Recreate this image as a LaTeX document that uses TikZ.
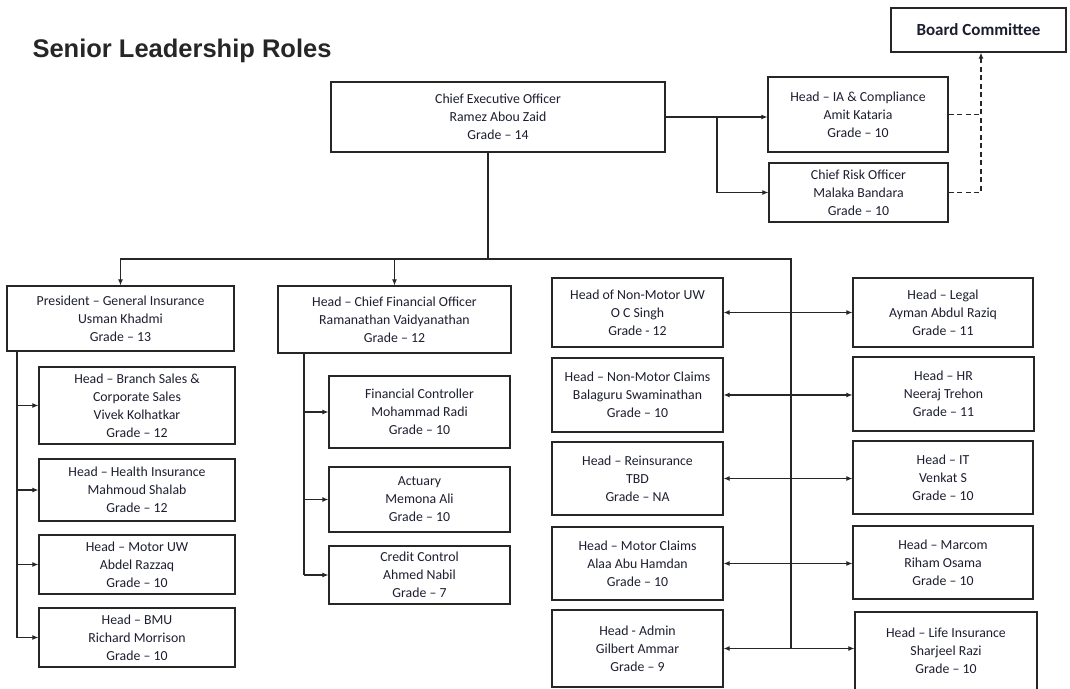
\documentclass[tikz,border=0pt]{standalone}
\usepackage{fontspec}
\setmainfont{Carlito}
\newfontfamily\titlefont{Liberation Sans}
\usetikzlibrary{arrows.meta}
\definecolor{ink}{RGB}{28,30,48}

\begin{document}
\begin{tikzpicture}[x=1pt, y=-1pt, >={Latex[length=6pt,width=5pt]},
    role/.style={rectangle, draw=black!85, line width=1.2pt, align=center, inner sep=0pt,
      text=ink, font=\fontsize{13.8}{18}\selectfont},
    link/.style={line width=1.1pt, draw=black!85}]

    \useasboundingbox (0,0) rectangle (1070,688);

    \node(title)[anchor=west, font=\titlefont\bfseries\fontsize{25.5}{28}\selectfont, text=black!85] at (29,51) {Senior Leadership Roles};
    \node(board)[role, minimum width=175pt, minimum height=44pt, font=\bfseries\fontsize{17}{20}\selectfont] at (978.5,30) {Board Committee};

    \node(ceo)[role, minimum width=334pt, minimum height=70pt] at (498,117) {Chief Executive Officer\\Ramez Abou Zaid\\Grade -- 14};
    \node(ia)[role, minimum width=180pt, minimum height=75pt] at (858,114.5) {Head -- IA \& Compliance\\Amit Kataria\\Grade -- 10};
    \node(cro)[role, minimum width=179pt, minimum height=59pt] at (858.5,192.5) {Chief Risk Officer\\Malaka Bandara\\Grade -- 10};

    % general insurance
    \node(pres)[role, minimum width=227pt, minimum height=65pt] at (120.5,318.5) {President -- General Insurance\\Usman Khadmi\\Grade -- 13};
    \node(branch)[role, minimum width=196pt, minimum height=77pt] at (137,405.5) {Head -- Branch Sales \&\\Corporate Sales\\Vivek Kolhatkar\\Grade -- 12};
    \node(health)[role, minimum width=196pt, minimum height=62pt] at (137,490) {Head -- Health Insurance\\Mahmoud Shalab\\Grade -- 12};
    \node(motoruw)[role, minimum width=196pt, minimum height=59pt] at (137,564.5) {Head -- Motor UW\\Abdel Razzaq\\Grade -- 10};
    \node(bmu)[role, minimum width=196pt, minimum height=59pt] at (137,637.5) {Head -- BMU\\Richard Morrison\\Grade -- 10};

    % finance
    \node(cfo)[role, minimum width=233pt, minimum height=67pt] at (394.5,319.5) {Head -- Chief Financial Officer\\Ramanathan Vaidyanathan\\Grade -- 12};
    \node(finctrl)[role, minimum width=181pt, minimum height=72pt] at (419.5,412) {Financial Controller\\Mohammad Radi\\Grade -- 10};
    \node(actuary)[role, minimum width=181pt, minimum height=65pt] at (419.5,499.5) {Actuary\\Memona Ali\\Grade -- 10};
    \node(credit)[role, minimum width=181pt, minimum height=58pt] at (419.5,575) {Credit Control\\Ahmed Nabil\\Grade -- 7};

    % direct reports, left side
    \node(nmuw)[role, minimum width=171pt, minimum height=69pt] at (637.5,312.5) {Head of Non-Motor UW\\O C Singh\\Grade - 12};
    \node(nmclaims)[role, minimum width=171pt, minimum height=74pt] at (637.5,395) {Head -- Non-Motor Claims\\Balaguru Swaminathan\\Grade -- 10};
    \node(reins)[role, minimum width=171pt, minimum height=73pt] at (637.5,478.5) {Head -- Reinsurance\\TBD\\Grade -- NA};
    \node(mclaims)[role, minimum width=171pt, minimum height=73pt] at (637.5,563.5) {Head -- Motor Claims\\Alaa Abu Hamdan\\Grade -- 10};
    \node(admin)[role, minimum width=171pt, minimum height=77pt] at (637.5,648.5) {Head - Admin\\Gilbert Ammar\\Grade -- 9};

    % direct reports, right side
    \node(legal)[role, minimum width=180pt, minimum height=69pt] at (943,312.5) {Head -- Legal\\Ayman Abdul Raziq\\Grade -- 11};
    \node(hr)[role, minimum width=181pt, minimum height=74pt] at (943.5,394) {Head -- HR\\Neeraj Trehon\\Grade -- 11};
    \node(it)[role, minimum width=180pt, minimum height=73pt] at (943,477.5) {Head -- IT\\Venkat S\\Grade -- 10};
    \node(marcom)[role, minimum width=180pt, minimum height=73pt] at (943,562.5) {Head -- Marcom\\Riham Osama\\Grade -- 10};
    \node(life)[role, minimum width=182pt, minimum height=78pt] at (946,651) {Head -- Life Insurance\\Sharjeel Razi\\Grade -- 10};

    \coordinate(split) at (717,117);
    \coordinate(hub) at (488,259);
    \coordinate(spine) at (791,259);
    \coordinate(spine-end) at (791,648);
    \coordinate(pres-bus) at (17,351);
    \coordinate(cfo-bus) at (304,353);

    \draw[link,->] (ceo.east |- split) -- (split -| ia.west);
    \draw[link,->] (split) |- (cro.west);
    \draw[link,dash pattern=on 5pt off 3.5pt] (ia.east) -- (ia.east -| 981,0);
    \draw[link,dash pattern=on 5pt off 3.5pt,->] (cro.east) -| ([xshift=2.5pt]board.south);

    \draw[link] (ceo.south -| hub) -- (hub);
    \draw[link,->] (hub) -| (pres.north);
    \draw[link,->] (hub) -| (cfo.north);
    \draw[link] (hub) -- (spine) -- (spine-end);

    \draw[link] (pres-bus) -- (pres-bus |- bmu.west);
    \foreach \n in {branch,health,motoruw,bmu}
        \draw[link,->] (pres-bus |- \n.west) -- (\n.west);

    \draw[link] (cfo-bus) -- (cfo-bus |- credit.west);
    \foreach \n in {finctrl,actuary,credit}
        \draw[link,->] (cfo-bus |- \n.west) -- (\n.west);

    \draw[link,<->] (nmuw.east) -- (nmuw.east -| legal.west);
    \draw[link,<->] (nmclaims.east) -- (nmclaims.east -| hr.west);
    \draw[link,<->] (reins.east) -- (reins.east -| it.west);
    \draw[link,<->] (mclaims.east) -- (mclaims.east -| marcom.west);
    \draw[link,<->] (admin.east) -- (admin.east -| life.west);
  \end{tikzpicture}
\end{document}
